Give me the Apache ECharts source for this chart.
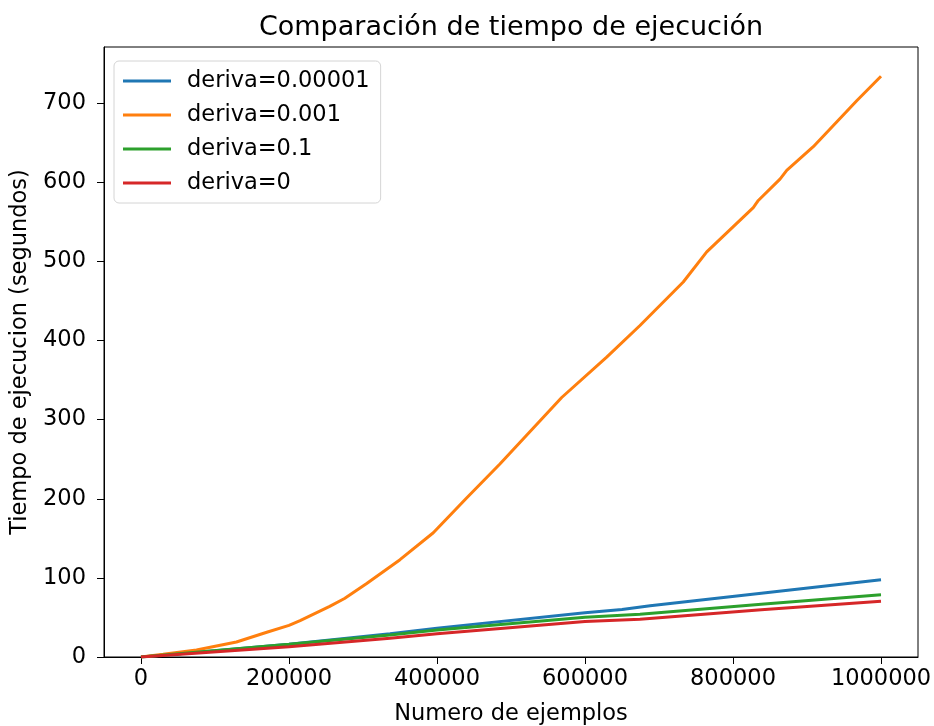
<!DOCTYPE html>
<html>
<head>
<meta charset="utf-8">
<script src="https://cdn.jsdelivr.net/npm/echarts@6/dist/echarts.min.js"></script>
<style>html,body{margin:0;padding:0;background:#fff}#c{width:934px;height:726px}</style>
</head>
<body>
<div id="c"></div>
<script>
var seriesNames = ['deriva=0.00001', 'deriva=0.001', 'deriva=0.1', 'deriva=0'];
var colors = ['#1f77b4', '#ff7f0e', '#2ca02c', '#d62728'];

var xBlue = [0, 100000, 200000, 336500, 400000, 600000, 650000, 688000, 838200, 1000000];
var yBlue = [0, 8, 16.1, 29.5, 36.5, 56, 60, 64.7, 80.7, 97.6];

var xOrange = [0, 30000, 75000, 129000, 131000, 170000, 200000, 215000, 255000, 275000, 305000, 350000, 395000, 440000, 485000, 568500, 629300, 674300, 732800, 764500, 827400, 834200, 863500, 872600, 908500, 967200, 1000000];
var yOrange = [0, 3.4, 8.9, 19, 21.5, 31.3, 40, 46, 64, 74, 93, 123, 157, 201, 244, 328, 379, 419, 474, 512, 568, 577, 604, 615, 645, 703, 734];

var xGreen = [0, 200000, 336500, 400000, 600000, 674300, 838200, 1000000];
var yGreen = [0, 16, 27.9, 34, 50.3, 54.1, 66.8, 78.6];

var xRed = [0, 200000, 336500, 400000, 600000, 674300, 838200, 1000000];
var yRed = [0, 13.1, 23.7, 29.5, 44.8, 47.8, 59.6, 70.6];

var xTicks = [0, 200000, 400000, 600000, 800000, 1000000];
var yTicks = [0, 100, 200, 300, 400, 500, 600, 700];

function pairs(xs, ys) { return xs.map(function (x, i) { return [x, ys[i]]; }); }
var allData = [pairs(xBlue, yBlue), pairs(xOrange, yOrange), pairs(xGreen, yGreen), pairs(xRed, yRed)];

var FONT = 'DejaVu Sans';
var chart = echarts.init(document.getElementById('c'), null, { renderer: 'canvas' });
chart.setOption({
  animation: false,
  backgroundColor: '#fff',
  textStyle: { fontFamily: FONT },
  graphic: [{
    type: 'text', x: 511, y: 28,
    style: { text: 'Comparación de tiempo de ejecución', font: '27px "DejaVu Sans"', fill: '#000', align: 'center', verticalAlign: 'middle' }
  }],
  grid: { left: 104, right: 16, top: 47, bottom: 69, show: true, borderColor: '#000', borderWidth: 1, backgroundColor: 'transparent', containLabel: false, outerBoundsMode: 'none' },
  legend: {
    data: seriesNames, orient: 'vertical', left: 114, top: 61,
    icon: 'rect', itemWidth: 48, itemHeight: 3, itemGap: 8,
    padding: [7, 11, 7, 9],
    borderColor: 'rgba(204,204,204,0.85)', borderWidth: 1, borderRadius: 5,
    backgroundColor: 'rgba(255,255,255,0.8)',
    textStyle: { fontFamily: FONT, fontSize: 22.5, color: '#000', lineHeight: 26, padding: [0, 0, 0, 11] }
  },
  xAxis: {
    type: 'value', min: -50000, max: 1050000,
    name: 'Numero de ejemplos', nameLocation: 'middle', nameGap: 46,
    nameTextStyle: { fontFamily: FONT, fontSize: 22.5, color: '#000' },
    axisLine: { show: true, onZero: false, lineStyle: { color: '#000', width: 1 } },
    axisTick: { show: true, length: 7, customValues: xTicks, lineStyle: { color: '#000', width: 1 } },
    axisLabel: { customValues: xTicks, margin: 11, fontFamily: FONT, fontSize: 22.5, color: '#000', formatter: function (v) { return String(v); } },
    splitLine: { show: false }
  },
  yAxis: {
    type: 'value', min: 0, max: 771,
    name: 'Tiempo de ejecucion (segundos)', nameLocation: 'middle', nameGap: 64,
    nameTextStyle: { fontFamily: FONT, fontSize: 22.5, color: '#000' },
    axisLine: { show: true, onZero: false, lineStyle: { color: '#000', width: 1 } },
    axisTick: { show: true, length: 7, customValues: yTicks, lineStyle: { color: '#000', width: 1 } },
    axisLabel: { customValues: yTicks, margin: 18, fontFamily: FONT, fontSize: 22.5, color: '#000', formatter: function (v) { return String(v); } },
    splitLine: { show: false }
  },
  series: seriesNames.map(function (n, i) {
    return {
      name: n, type: 'line', data: allData[i], showSymbol: false, symbol: 'none',
      color: colors[i], lineStyle: { color: colors[i], width: 3 }, z: 2 + i, clip: true
    };
  })
});
</script>
</body>
</html>
